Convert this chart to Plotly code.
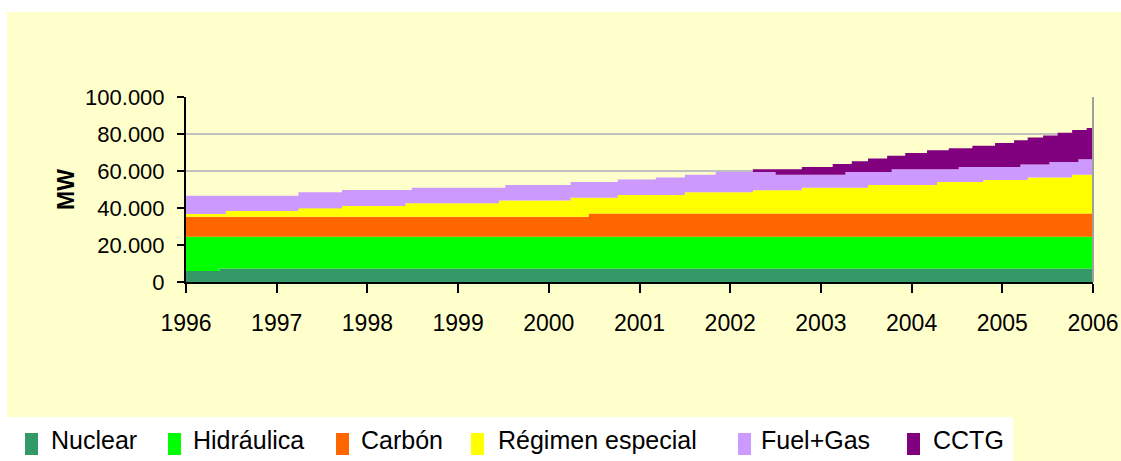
import numpy as np
import plotly.graph_objects as go

# ---------------- data (MW) -----------------
years = [1996, 1997, 1998, 1999, 2000, 2001, 2002, 2003, 2004, 2005, 2006]
y_ticks = [0, 20000, 40000, 60000, 80000, 100000]

names = ["Nuclear", "Hidráulica", "Carbón", "Régimen especial", "Fuel+Gas", "CCTG"]
colors = ["#339966", "#00FF00", "#FF6600", "#FFFF00", "#CC99FF", "#800080"]

nuclear_t = [1996.00, 1996.37]
nuclear_v = [5900, 7300]

hidraulica_t = [1996.00, 1996.37]
hidraulica_v = [18500, 17100]

carbon_t = [1996.00, 2000.44]
carbon_v = [10900, 12600]

regimen_t = [1996.00, 1996.44, 1997.24, 1997.72, 1998.42, 1999.45, 2000.24, 2000.44,
             2000.76, 2001.50, 2002.25, 2002.79, 2003.52, 2004.28, 2004.79, 2005.28, 2005.77]
regimen_v = [1500, 3100, 4500, 5800, 7300, 8800, 10200, 8500,
             10000, 11500, 12600, 14000, 15500, 17000, 18200, 19500, 21000]

fuelgas_t = [1996.00, 1996.44, 1997.24, 1997.72, 1998.42, 1998.49, 1999.45, 1999.52,
             2000.24, 2000.76, 2001.18, 2001.50, 2001.84, 2002.25, 2002.50, 2002.79,
             2003.27, 2003.52, 2003.78, 2004.28, 2004.52, 2004.79, 2005.20, 2005.28,
             2005.52, 2005.77, 2005.84]
fuelgas_v = [9800, 8200, 8700, 8600, 7100, 8400, 6900, 8400,
             8500, 8400, 9500, 9500, 10900, 9800, 8400, 7000,
             8400, 6900, 8400, 6900, 8200, 7000, 8300, 7000,
             8400, 6900, 8400]

cctg_t = [1996.00, 2002.25, 2002.50, 2002.79, 2003.13, 2003.27, 2003.34, 2003.52,
          2003.73, 2003.78, 2003.93, 2004.17, 2004.41, 2004.52, 2004.67, 2004.92,
          2005.13, 2005.20, 2005.28, 2005.45, 2005.52, 2005.61, 2005.77, 2005.84, 2005.93]
cctg_v = [0, 1500, 2900, 4200, 5800, 4400, 5900, 7400,
          8800, 7300, 8800, 10300, 11400, 10100, 11500, 13000,
          14400, 13100, 14600, 15700, 14300, 15800, 17200, 15700, 16800]

series_t = [nuclear_t, hidraulica_t, carbon_t, regimen_t, fuelgas_t, cctg_t]
series_v = [nuclear_v, hidraulica_v, carbon_v, regimen_v, fuelgas_v, cctg_v]

# common time grid for stacking (step functions)
grid = np.unique(np.concatenate([np.array(t) for t in series_t] + [np.array([years[-1]])]))


def step_on(t, v):
    idx = np.searchsorted(np.array(t), grid, side="right") - 1
    return np.array(v)[idx]


# ---------------- figure -----------------
W, H = 1121, 461
ML, MR, MT, MB = 186, 28, 97, 179
PW, PH = W - ML - MR, H - MT - MB


def px(x):  # pixel x -> paper coordinate
    return (x - ML) / PW


def py(y):  # pixel y -> paper coordinate
    return (H - MB - y) / PH


FONT = "Liberation Sans, Arial, sans-serif"

fig = go.Figure()
for name, col, t, v in zip(names, colors, series_t, series_v):
    fig.add_trace(go.Scatter(
        x=grid, y=step_on(t, v), name=name, mode="lines",
        line=dict(width=0, shape="hv", color=col),
        fillcolor=col, stackgroup="one", showlegend=False,
        hovertemplate="%{x:.2f}: %{y:,.0f} MW<extra>" + name + "</extra>",
    ))

YELLOW = "#FFFFCC"
shapes = [
    # yellow chart background
    dict(type="rect", xref="paper", yref="paper", x0=px(7), x1=px(W + 2), y0=py(12), y1=py(H + 2),
         fillcolor=YELLOW, line=dict(width=0), layer="below"),
    # white legend box
    dict(type="rect", xref="paper", yref="paper", x0=px(7), x1=px(1013), y0=py(417), y1=py(H + 2),
         fillcolor="white", line=dict(width=0), layer="below"),
    # right border of plot area
    dict(type="line", xref="paper", yref="paper", x0=1, x1=1, y0=0, y1=1,
         line=dict(color="#A0A0A0", width=2), layer="above"),
]

annotations = []
sq_x = [25, 168, 336, 471, 738, 907]
tx_x = [49, 191, 359, 496, 759, 931]
for name, col, sx, tx in zip(names, colors, sq_x, tx_x):
    shapes.append(dict(type="rect", xref="paper", yref="paper",
                       x0=px(sx), x1=px(sx + 13), y0=py(455), y1=py(433),
                       fillcolor=col, line=dict(width=0)))
    annotations.append(dict(xref="paper", yref="paper", x=px(tx), y=py(440),
                            xanchor="left", yanchor="middle", text=name, showarrow=False,
                            font=dict(family=FONT, size=25, color="black")))

fig.update_layout(
    template="none",
    width=W, height=H,
    margin=dict(l=ML, r=MR, t=MT, b=MB, autoexpand=False),
    paper_bgcolor="white",
    plot_bgcolor="rgba(0,0,0,0)",
    separators=",.",
    font=dict(family=FONT, color="black"),
    showlegend=False,
    shapes=shapes,
    annotations=annotations,
    xaxis=dict(
        range=[years[0], years[-1]], tickvals=years, tickformat="d",
        showgrid=False, zeroline=False,
        showline=True, linecolor="black", linewidth=2,
        ticks="outside", ticklen=9, tickwidth=2, tickcolor="black",
        ticklabelstandoff=10,
        tickfont=dict(family=FONT, size=23, color="black"),
        automargin=False,
    ),
    yaxis=dict(
        range=[0, 100000], tickvals=y_ticks, tickformat=",d",
        showgrid=True, gridcolor="#C0C0C0", gridwidth=2, zeroline=False,
        showline=True, linecolor="black", linewidth=2,
        ticks="outside", ticklen=7, tickwidth=2, tickcolor="black",
        ticklabelstandoff=8,
        tickfont=dict(family=FONT, size=22, color="black"),
        title=dict(text="<b>MW</b>", font=dict(family=FONT, size=23, color="black"), standoff=4),
        automargin=False,
    ),
)

fig.write_html(
    "out.html",
    config={"displayModeBar": False},
    post_script="document.body.style.margin='0';document.body.style.overflow='hidden';",
)
